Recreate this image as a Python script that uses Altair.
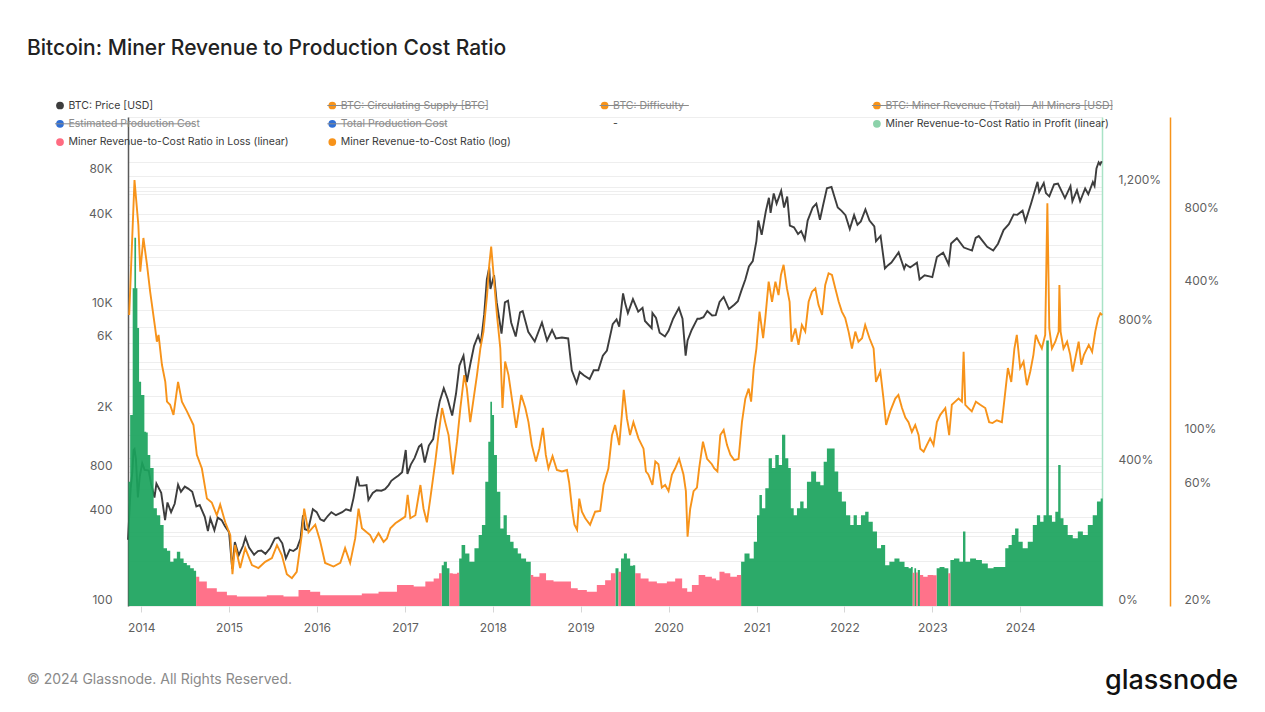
import altair as alt
import pandas as pd

TITLE = "Bitcoin: Miner Revenue to Production Cost Ratio"
FOOTER = "© 2024 Glassnode. All Rights Reserved."
LOGO = "glassnode"

# ---------------- BTC price [USD] ----------------
price_dates = [
    "2013-11-07", "2013-11-18", "2013-11-25", "2013-11-30", "2013-12-04", "2013-12-10", "2013-12-18", "2013-12-26",
    "2014-01-05", "2014-01-15", "2014-02-01", "2014-02-10", "2014-02-25", "2014-03-05", "2014-03-25", "2014-04-10",
    "2014-04-20", "2014-05-05", "2014-05-20", "2014-06-03", "2014-06-15", "2014-07-01", "2014-07-15", "2014-08-01",
    "2014-08-18", "2014-09-01", "2014-09-22", "2014-10-05", "2014-10-15", "2014-11-01", "2014-11-15", "2014-12-01",
    "2014-12-15", "2015-01-01", "2015-01-14", "2015-01-25", "2015-02-10", "2015-02-28", "2015-03-10", "2015-03-25",
    "2015-04-15", "2015-05-01", "2015-05-15", "2015-06-01", "2015-06-20", "2015-07-10", "2015-07-25", "2015-08-10",
    "2015-08-25", "2015-09-10", "2015-09-25", "2015-10-10", "2015-10-25", "2015-11-04", "2015-11-12", "2015-11-25",
    "2015-12-15", "2015-12-31", "2016-01-15", "2016-01-30", "2016-02-15", "2016-03-01", "2016-03-20", "2016-04-15",
    "2016-05-01", "2016-05-20", "2016-06-01", "2016-06-17", "2016-06-25", "2016-07-10", "2016-07-25", "2016-08-02",
    "2016-08-20", "2016-09-05", "2016-09-25", "2016-10-10", "2016-10-25", "2016-11-05", "2016-11-20", "2016-12-05",
    "2016-12-20", "2017-01-04", "2017-01-11", "2017-01-25", "2017-02-10", "2017-02-28", "2017-03-10", "2017-03-24",
    "2017-04-10", "2017-04-28", "2017-05-10", "2017-05-25", "2017-06-11", "2017-06-27", "2017-07-16", "2017-08-01",
    "2017-08-15", "2017-09-01", "2017-09-15", "2017-09-30", "2017-10-15", "2017-11-01", "2017-11-12", "2017-11-26",
    "2017-12-07", "2017-12-17", "2017-12-22", "2018-01-06", "2018-01-17", "2018-02-06", "2018-02-20", "2018-03-05",
    "2018-03-18", "2018-04-06", "2018-04-24", "2018-05-05", "2018-05-28", "2018-06-24", "2018-07-24", "2018-08-14",
    "2018-09-04", "2018-09-20", "2018-10-15", "2018-11-10", "2018-11-25", "2018-12-15", "2018-12-28", "2019-01-15",
    "2019-02-07", "2019-02-24", "2019-03-15", "2019-04-03", "2019-04-20", "2019-05-14", "2019-05-30", "2019-06-10",
    "2019-06-26", "2019-07-05", "2019-07-16", "2019-08-06", "2019-08-28", "2019-09-15", "2019-09-25", "2019-10-23",
    "2019-10-26", "2019-11-10", "2019-11-25", "2019-12-17", "2020-01-01", "2020-01-20", "2020-02-13", "2020-02-28",
    "2020-03-12", "2020-03-20", "2020-04-06", "2020-04-30", "2020-05-10", "2020-05-25", "2020-06-10", "2020-06-30",
    "2020-07-15", "2020-07-31", "2020-08-17", "2020-09-08", "2020-09-30", "2020-10-15", "2020-10-30", "2020-11-15",
    "2020-11-30", "2020-12-16", "2020-12-31", "2021-01-08", "2021-01-22", "2021-02-08", "2021-02-21", "2021-02-28",
    "2021-03-13", "2021-03-25", "2021-04-13", "2021-04-25", "2021-05-08", "2021-05-19", "2021-06-05", "2021-06-22",
    "2021-07-05", "2021-07-20", "2021-08-01", "2021-08-22", "2021-09-06", "2021-09-21", "2021-10-05", "2021-10-20",
    "2021-11-08", "2021-11-26", "2021-12-04", "2021-12-20", "2022-01-05", "2022-01-23", "2022-02-10", "2022-02-24",
    "2022-03-10", "2022-03-29", "2022-04-15", "2022-05-05", "2022-05-12", "2022-05-31", "2022-06-18", "2022-06-30",
    "2022-07-15", "2022-08-14", "2022-09-06", "2022-09-13", "2022-10-01", "2022-10-29", "2022-11-09", "2022-11-30",
    "2022-12-20", "2023-01-01", "2023-01-20", "2023-02-15", "2023-03-10", "2023-03-20", "2023-04-13", "2023-05-12",
    "2023-06-15", "2023-06-30", "2023-07-13", "2023-08-17", "2023-09-11", "2023-10-01", "2023-10-24", "2023-11-15",
    "2023-12-05", "2023-12-20", "2024-01-11", "2024-01-23", "2024-02-15", "2024-03-05", "2024-03-13", "2024-03-20",
    "2024-04-08", "2024-04-17", "2024-05-01", "2024-05-21", "2024-06-06", "2024-07-05", "2024-07-28", "2024-08-05",
    "2024-08-24", "2024-09-06", "2024-09-27", "2024-10-10", "2024-10-29", "2024-11-05", "2024-11-13", "2024-11-22",
    "2024-11-28", "2024-12-05",
]
price_usd = [
    280, 620, 800, 1130, 1150, 980, 540, 750,
    920, 830, 820, 680, 540, 670, 580, 380,
    500, 430, 490, 660, 590, 640, 620, 590,
    470, 480, 400, 320, 390, 325, 395, 380,
    345, 315, 178, 270, 220, 255, 290, 248,
    222, 235, 237, 225, 245, 285, 290, 265,
    210, 240, 235, 245, 285, 410, 330, 325,
    450, 430, 385, 375, 405, 430, 410, 430,
    450, 440, 535, 750, 650, 650, 655, 520,
    580, 605, 600, 615, 655, 700, 730, 760,
    800, 1130, 780, 900, 1000, 1190, 1230, 930,
    1210, 1340, 1800, 2400, 2950, 2500, 1930, 2720,
    4200, 4900, 3250, 4350, 5700, 6700, 5900, 9300,
    16000, 19300, 13800, 17100, 11200, 6900, 11200, 11500,
    8200, 6600, 9600, 9800, 7100, 6100, 8200, 6200,
    7300, 6400, 6500, 6400, 3900, 3200, 3800, 3600,
    3400, 3900, 3900, 4900, 5300, 8000, 8600, 7700,
    12900, 11000, 9500, 11800, 9700, 10300, 8400, 7500,
    9500, 8800, 7000, 6600, 7200, 8700, 10300, 8700,
    4900, 6200, 7300, 8700, 8700, 8900, 9800, 9150,
    9200, 11300, 12200, 10100, 10800, 11400, 13500, 16000,
    19600, 21300, 29000, 40000, 32000, 46000, 57000, 45000,
    61000, 52000, 63500, 49000, 58000, 37000, 36000, 32500,
    34000, 29800, 40000, 49000, 52000, 40500, 51500, 66000,
    67500, 54000, 49000, 46500, 43500, 35000, 43500, 37500,
    39500, 47500, 40000, 36500, 29000, 31500, 19000, 19900,
    20800, 24400, 18900, 20200, 19300, 20800, 16000, 17100,
    16800, 16600, 22700, 24300, 20200, 28000, 30400, 26300,
    25100, 30500, 31400, 26600, 25100, 27900, 34500, 37800,
    44000, 43700, 46600, 39500, 52000, 66000, 73000, 62500,
    71600, 61300, 58200, 70100, 71000, 56700, 68200, 54000,
    64100, 54000, 65800, 60200, 72700, 68500, 90000, 98900,
    95500, 100500,
]

# ------------- Miner Revenue-to-Cost Ratio (log), % ; time in decimal years -------------
ratio_log_t = [
    2013.863, 2013.924, 2013.966, 2013.989, 2014.026, 2014.065, 2014.102, 2014.159, 2014.179, 2014.197,
    2014.235, 2014.273, 2014.292, 2014.330, 2014.367, 2014.418, 2014.463, 2014.520, 2014.595, 2014.634,
    2014.691, 2014.747, 2014.804, 2014.861, 2014.899, 2014.956, 2015.013, 2015.039, 2015.069, 2015.126,
    2015.183, 2015.259, 2015.334, 2015.411, 2015.487, 2015.544, 2015.601, 2015.658, 2015.714, 2015.771,
    2015.828, 2015.854, 2015.903, 2015.980, 2016.036, 2016.093, 2016.188, 2016.264, 2016.321, 2016.378,
    2016.435, 2016.472, 2016.511, 2016.568, 2016.605, 2016.643, 2016.700, 2016.757, 2016.795, 2016.833,
    2016.890, 2016.947, 2017.003, 2017.030, 2017.060, 2017.117, 2017.174, 2017.212, 2017.250, 2017.288,
    2017.345, 2017.382, 2017.421, 2017.458, 2017.496, 2017.546, 2017.592, 2017.629, 2017.675, 2017.705,
    2017.743, 2017.780, 2017.819, 2017.857, 2017.894, 2017.933, 2017.959, 2017.982, 2018.008, 2018.047,
    2018.084, 2018.110, 2018.141, 2018.179, 2018.217, 2018.266, 2018.323, 2018.369, 2018.406, 2018.445,
    2018.490, 2018.528, 2018.570, 2018.604, 2018.634, 2018.679, 2018.729, 2018.786, 2018.843, 2018.869,
    2018.900, 2018.929, 2018.960, 2018.983, 2019.014, 2019.051, 2019.108, 2019.165, 2019.222, 2019.260,
    2019.316, 2019.355, 2019.392, 2019.438, 2019.469, 2019.491, 2019.526, 2019.563, 2019.601, 2019.658,
    2019.714, 2019.742, 2019.771, 2019.817, 2019.848, 2019.885, 2019.924, 2019.961, 2020.000, 2020.037,
    2020.075, 2020.121, 2020.170, 2020.197, 2020.215, 2020.246, 2020.283, 2020.322, 2020.348, 2020.390,
    2020.436, 2020.493, 2020.519, 2020.556, 2020.587, 2020.625, 2020.663, 2020.701, 2020.746, 2020.795,
    2020.834, 2020.871, 2020.909, 2020.936, 2020.966, 2020.997, 2021.034, 2021.073, 2021.099, 2021.137,
    2021.175, 2021.213, 2021.250, 2021.278, 2021.307, 2021.346, 2021.375, 2021.398, 2021.440, 2021.478,
    2021.516, 2021.554, 2021.591, 2021.630, 2021.668, 2021.705, 2021.744, 2021.781, 2021.819, 2021.858,
    2021.895, 2021.933, 2021.971, 2022.009, 2022.047, 2022.085, 2022.123, 2022.160, 2022.199, 2022.236,
    2022.285, 2022.331, 2022.358, 2022.407, 2022.445, 2022.475, 2022.521, 2022.578, 2022.615, 2022.654,
    2022.692, 2022.730, 2022.768, 2022.805, 2022.843, 2022.862, 2022.900, 2022.938, 2022.976, 2023.014,
    2023.052, 2023.090, 2023.147, 2023.192, 2023.223, 2023.260, 2023.298, 2023.337, 2023.355, 2023.374,
    2023.412, 2023.450, 2023.496, 2023.545, 2023.602, 2023.647, 2023.685, 2023.735, 2023.792, 2023.821,
    2023.860, 2023.898, 2023.935, 2023.962, 2024.000, 2024.038, 2024.076, 2024.114, 2024.151, 2024.178,
    2024.208, 2024.247, 2024.284, 2024.310, 2024.330, 2024.361, 2024.398, 2024.436, 2024.444, 2024.459,
    2024.493, 2024.532, 2024.569, 2024.596, 2024.626, 2024.664, 2024.694, 2024.725, 2024.780, 2024.816,
    2024.853, 2024.884, 2024.910, 2024.933,
]
ratio_log_pct = [
    310, 1104, 723, 466, 640, 497, 386, 273, 241, 257,
    194, 165, 137, 133, 121, 165, 137, 125, 110, 83,
    73, 55, 53, 47, 52, 44, 39, 27, 35.5, 28.6,
    34.5, 29.4, 28.6, 30.3, 31.4, 35.5, 32.3, 27, 26, 27.6,
    39, 50, 40, 43, 37, 30, 29, 30, 34.5, 30,
    37.8, 50, 41.6, 40, 39, 36.6, 39.7, 36.6, 37.8, 41.6,
    43.6, 45, 46.4, 57, 45.7, 47, 62.5, 50, 44, 55,
    78, 100, 129, 113, 100, 69, 94, 129, 176, 155,
    113, 141, 176, 226, 265, 374, 497, 590, 452, 310,
    226, 129, 200, 176, 141, 107, 146, 129, 113, 91,
    78, 88, 107, 83, 73, 82, 72, 71, 72, 64,
    50, 43, 41, 55, 48.6, 45.7, 43, 48.6, 49, 62.5,
    73, 100, 110, 91, 121, 153, 117, 100, 113, 97,
    88, 71, 69, 62.5, 78, 76, 61, 62.5, 59, 69,
    73, 80, 69, 59, 38.4, 50, 59, 61, 73, 94,
    80, 76, 73, 71, 100, 105, 91, 83, 79, 80,
    113, 141, 155, 137, 188, 226, 320, 249, 301, 424,
    351, 424, 374, 452, 497, 398, 351, 241, 273, 234,
    282, 265, 351, 386, 398, 341, 310, 411, 459, 452,
    398, 351, 320, 301, 265, 226, 265, 241, 249, 282,
    249, 226, 165, 182, 141, 110, 125, 141, 146, 129,
    118, 113, 103, 110, 100, 88, 85.5, 91, 97, 91,
    113, 121, 129, 100, 133, 137, 141, 137, 219, 133,
    129, 125, 137, 133, 129, 113, 112, 115, 113, 141,
    188, 165, 226, 257, 188, 200, 160, 182, 213, 257,
    241, 226, 257, 887, 273, 226, 241, 265, 411, 265,
    226, 241, 213, 182, 206, 241, 194, 213, 234, 219,
    265, 301, 315, 310,
]

# ------------- Miner Revenue-to-Cost Ratio (linear), %; profit >= 100 %, loss < 100 % -------------
bar_t = [
    2013.856, 2013.894, 2013.912, 2013.932, 2013.951, 2013.962, 2013.989, 2014.008, 2014.026, 2014.046,
    2014.065, 2014.083, 2014.122, 2014.159, 2014.197, 2014.235, 2014.273, 2014.311, 2014.349, 2014.387,
    2014.424, 2014.463, 2014.501, 2014.538, 2014.577, 2014.618, 2014.629, 2014.691, 2014.804, 2014.918,
    2015.032, 2015.146, 2015.334, 2015.524, 2015.714, 2015.866, 2015.980, 2016.093, 2016.415, 2016.605,
    2016.795, 2017.023, 2017.174, 2017.288, 2017.364, 2017.410, 2017.424, 2017.458, 2017.496, 2017.515,
    2017.572, 2017.610, 2017.621, 2017.667, 2017.705, 2017.762, 2017.819, 2017.857, 2017.894, 2017.933,
    2017.962, 2017.982, 2018.001, 2018.027, 2018.065, 2018.104, 2018.141, 2018.179, 2018.217, 2018.255,
    2018.312, 2018.331, 2018.425, 2018.437, 2018.482, 2018.577, 2018.634, 2018.748, 2018.861, 2018.918,
    2019.014, 2019.127, 2019.241, 2019.316, 2019.373, 2019.419, 2019.441, 2019.476, 2019.506, 2019.544,
    2019.582, 2019.612, 2019.631, 2019.734, 2019.810, 2019.924, 2020.037, 2020.113, 2020.197, 2020.227,
    2020.303, 2020.379, 2020.454, 2020.530, 2020.550, 2020.606, 2020.663, 2020.739, 2020.815, 2020.834,
    2020.891, 2020.948, 2020.985, 2021.023, 2021.042, 2021.080, 2021.118, 2021.156, 2021.193, 2021.232,
    2021.270, 2021.307, 2021.346, 2021.375, 2021.402, 2021.440, 2021.478, 2021.516, 2021.554, 2021.591,
    2021.648, 2021.705, 2021.744, 2021.781, 2021.819, 2021.869, 2021.907, 2021.952, 2021.990, 2022.047,
    2022.085, 2022.123, 2022.160, 2022.217, 2022.256, 2022.293, 2022.350, 2022.388, 2022.445, 2022.483,
    2022.540, 2022.597, 2022.654, 2022.711, 2022.749, 2022.768, 2022.787, 2022.805, 2022.824, 2022.843,
    2022.874, 2022.919, 2022.976, 2023.044, 2023.056, 2023.109, 2023.166, 2023.196, 2023.215, 2023.280,
    2023.337, 2023.363, 2023.393, 2023.469, 2023.526, 2023.602, 2023.659, 2023.735, 2023.810, 2023.848,
    2023.886, 2023.924, 2023.962, 2024.000, 2024.057, 2024.114, 2024.171, 2024.208, 2024.247, 2024.284,
    2024.310, 2024.341, 2024.379, 2024.417, 2024.444, 2024.474, 2024.512, 2024.569, 2024.626, 2024.683,
    2024.740, 2024.796, 2024.853, 2024.891, 2024.937,
]
bar_pct = [
    356, 547, 910, 1054, 910, 796, 642, 604, 604, 499,
    497, 432, 395, 280, 260, 232, 165, 158, 127, 136,
    155, 136, 123, 117, 108, 101, 84, 70, 51, 41,
    31, 27, 27, 31, 27, 46, 41, 31, 31, 36,
    41, 60, 56, 70, 79, 94, 117, 127, 108, 94,
    92, 95, 136, 175, 150, 127, 165, 203, 232, 356,
    470, 585, 547, 432, 327, 222, 260, 203, 184, 165,
    150, 136, 127, 89, 84, 94, 74, 70, 70, 51,
    46, 41, 60, 74, 94, 108, 98, 136, 150, 136,
    115, 117, 94, 79, 70, 65, 70, 79, 51, 41,
    60, 89, 84, 79, 74, 98, 94, 84, 89, 127,
    150, 136, 184, 260, 318, 280, 337, 423, 395, 432,
    404, 490, 423, 395, 280, 260, 280, 299, 280, 356,
    385, 356, 346, 413, 451, 451, 385, 327, 299, 260,
    232, 260, 232, 260, 270, 241, 213, 165, 175, 117,
    127, 136, 127, 112, 108, 112, 95, 108, 96, 103,
    89, 84, 89, 88, 108, 112, 108, 94, 132, 136,
    127, 213, 127, 136, 132, 122, 108, 112, 112, 165,
    175, 203, 222, 184, 165, 184, 232, 260, 241, 260,
    760, 260, 241, 270, 404, 251, 232, 203, 194, 213,
    203, 232, 260, 299, 308,
]

# ---------------- legend entries ----------------
legend_labels = [
    "BTC: Price [USD]", "BTC: Circulating Supply [BTC]", "BTC: Difficulty",
    "BTC: Miner Revenue (Total) - All Miners [USD]",
    "Estimated Production Cost", "Total Production Cost", "-",
    "Miner Revenue-to-Cost Ratio in Profit (linear)",
    "Miner Revenue-to-Cost Ratio in Loss (linear)", "Miner Revenue-to-Cost Ratio (log)",
]
legend_colors = ["#3d3d3d", "#f7931a", "#f7931a", "#f7931a", "#2f6fd6", "#2f6fd6", "",
                 "#8cd2aa", "#ff6b81", "#f7931a"]
legend_hidden = [False, True, True, True, True, True, False, False, False, False]

assert len(price_dates) == len(price_usd)
assert len(ratio_log_t) == len(ratio_log_pct)
assert len(bar_t) == len(bar_pct)

# ---------------- styling ----------------
ORANGE = "#f7931a"
PRICE_C = "#3d3d3d"
GREEN = "#1aa35c"
RED = "#ff6680"
MINT = "#a9e3c6"
GRID = "#eeeeee"
LABEL_C = "#5f5f5f"
FONT = "Inter"

W, H = 974, 489


def dec_to_iso(t):
    y = int(t)
    nd = 366 if (y % 4 == 0 and (y % 100 != 0 or y % 400 == 0)) else 365
    d = pd.Timestamp(year=y, month=1, day=1) + pd.Timedelta(days=int(round((t - y) * nd)))
    return d.strftime("%Y-%m-%d")


price_df = pd.DataFrame({"date": price_dates, "price": price_usd})
log_df = pd.DataFrame({"date": [dec_to_iso(t) for t in ratio_log_t], "ratio": ratio_log_pct})
bar_rows = []
for d, v in zip([dec_to_iso(t) for t in bar_t], bar_pct):
    profit = v >= 100
    bar_rows.append({"date": d, "state": "profit", "value": v if profit else 0})
    bar_rows.append({"date": d, "state": "loss", "value": 0 if profit else v})
bar_df = pd.DataFrame(bar_rows)

# legend layout (computed from entry index)
LEG_COL0, LEG_COLW, LEG_ROW0, LEG_ROWH, LEG_TXT, LEG_CHAR = -68, 272.3, -11.5, 18.3, 8.5, 5.05
leg_rows = []
for i, (lab, colr, off) in enumerate(zip(legend_labels, legend_colors, legend_hidden)):
    c, r = i % 4, i // 4
    sx = LEG_COL0 + c * LEG_COLW
    yy = LEG_ROW0 + r * LEG_ROWH
    tx = sx + LEG_TXT
    leg_rows.append({
        "label": lab, "sym": colr, "off": off, "sx": sx, "tx": tx, "y": yy,
        "x1": sx - 5, "x2": tx + len(lab) * LEG_CHAR,
        "tcol": "#8a8a8a" if off else "#3a3a3a",
    })
leg_df = pd.DataFrame(leg_rows)

# ---------------- scales & axes ----------------
x_scale = alt.Scale(domain=[alt.DateTime(year=2013, month=11, date=7, utc=True),
                            alt.DateTime(year=2024, month=12, date=6, utc=True)])
x_axis = alt.Axis(
    values=[alt.DateTime(year=y, month=1, date=1, utc=True) for y in range(2014, 2025)],
    format="%Y", formatType="utc", grid=False, domain=False, ticks=True, tickSize=6,
    tickColor="#d6d6d6", labelPadding=10, labelFont=FONT, labelFontSize=12,
    labelColor=LABEL_C, title=None, labelOverlap=False,
)
x_enc = alt.X("date:T", scale=x_scale, axis=x_axis)

common_y = dict(grid=True, gridColor=GRID, gridWidth=1, ticks=False, title=None,
                labelFont=FONT, labelFontSize=12, labelColor=LABEL_C, labelOverlap=False,
                labelOffset=-7, domainWidth=1.5)

price_axis = alt.Axis(
    orient="left",
    values=[100, 200, 400, 800, 1000, 2000, 4000, 6000, 10000, 20000, 40000, 60000, 80000, 100000],
    labelExpr="indexof([100,400,800,2000,6000,10000,40000,80000], datum.value) >= 0 ? "
              "(datum.value >= 1000 ? (datum.value / 1000) + 'K' : datum.value + '') : ''",
    domain=True, domainColor="#5a5a5a", labelPadding=16, **common_y,
)
lin_axis = alt.Axis(
    orient="right", offset=0,
    values=[0, 200, 400, 600, 800, 1000, 1200, 1400],
    labelExpr="indexof([0,400,800,1200], datum.value) >= 0 ? format(datum.value, ',') + '%' : ''",
    domain=True, domainColor=MINT, labelPadding=16, labelAlign="left", **common_y,
)
logr_axis = alt.Axis(
    orient="right", offset=68,
    values=[20, 40, 60, 100, 200, 400, 600, 800, 1000],
    labelExpr="indexof([20,60,100,400,800], datum.value) >= 0 ? datum.value + '%' : ''",
    domain=True, domainColor=ORANGE, labelPadding=14, labelAlign="left", **common_y,
)

# ---------------- layers ----------------
price_line = alt.Chart(price_df).mark_line(color=PRICE_C, strokeWidth=1.9).encode(
    x=x_enc,
    y=alt.Y("price:Q", scale=alt.Scale(type="log", domain=[100, 200000], nice=False), axis=price_axis),
)

bars = alt.Chart(bar_df).mark_area(interpolate="step", opacity=0.92).encode(
    x=x_enc,
    y=alt.Y("value:Q", stack=None, scale=alt.Scale(domain=[0, 1400], nice=False), axis=lin_axis),
    color=alt.Color("state:N", scale=alt.Scale(domain=["profit", "loss"], range=[GREEN, RED]), legend=None),
)

ratio_line = alt.Chart(log_df).mark_line(color=ORANGE, strokeWidth=1.9).encode(
    x=x_enc,
    y=alt.Y("ratio:Q", scale=alt.Scale(type="log", domain=[20, 2000], nice=False), axis=logr_axis),
)

leg_sym = alt.Chart(leg_df).transform_filter("datum.sym != ''").mark_circle(size=60, opacity=1).encode(
    x=alt.X("sx:Q", scale=None, axis=None),
    y=alt.Y("y:Q", scale=None, axis=None),
    color=alt.Color("sym:N", scale=None, legend=None),
)
leg_txt = alt.Chart(leg_df).mark_text(align="left", baseline="middle", font=FONT, fontSize=10.5).encode(
    x=alt.X("tx:Q", scale=None, axis=None),
    y=alt.Y("y:Q", scale=None, axis=None),
    text="label:N",
    color=alt.Color("tcol:N", scale=None, legend=None),
)
leg_strike = alt.Chart(leg_df).transform_filter("datum.off").mark_rule(color="#8a8a8a", strokeWidth=1).encode(
    x=alt.X("x1:Q", scale=None, axis=None),
    x2="x2:Q",
    y=alt.Y("y:Q", scale=None, axis=None),
)

footer = alt.Chart(pd.DataFrame({"t": [FOOTER]})).mark_text(
    align="left", baseline="middle", font=FONT, fontSize=14, color="#8a8a8a"
).encode(x=alt.value(-101), y=alt.value(563), text="t:N")

logo = alt.Chart(pd.DataFrame({"t": [LOGO]})).mark_text(
    align="right", baseline="middle", font=FONT, fontSize=27, fontWeight=500, color="#111111"
).encode(x=alt.value(1110), y=alt.value(564), text="t:N")

chart = alt.layer(
    price_line, bars, ratio_line, leg_sym, leg_txt, leg_strike, footer, logo
).resolve_scale(
    y="independent", color="independent"
).properties(
    width=W, height=H,
    autosize=alt.AutoSizeParams(type="none"),
    padding={"left": 128, "top": 117, "right": 163, "bottom": 106},
    title=alt.TitleParams(TITLE, anchor="start", frame="group", dx=-101, offset=42,
                          fontSize=21, fontWeight=500, color="#222222", font=FONT),
).configure_view(stroke=None)

chart.save("out.html", embed_options={"renderer": "svg", "actions": False})
